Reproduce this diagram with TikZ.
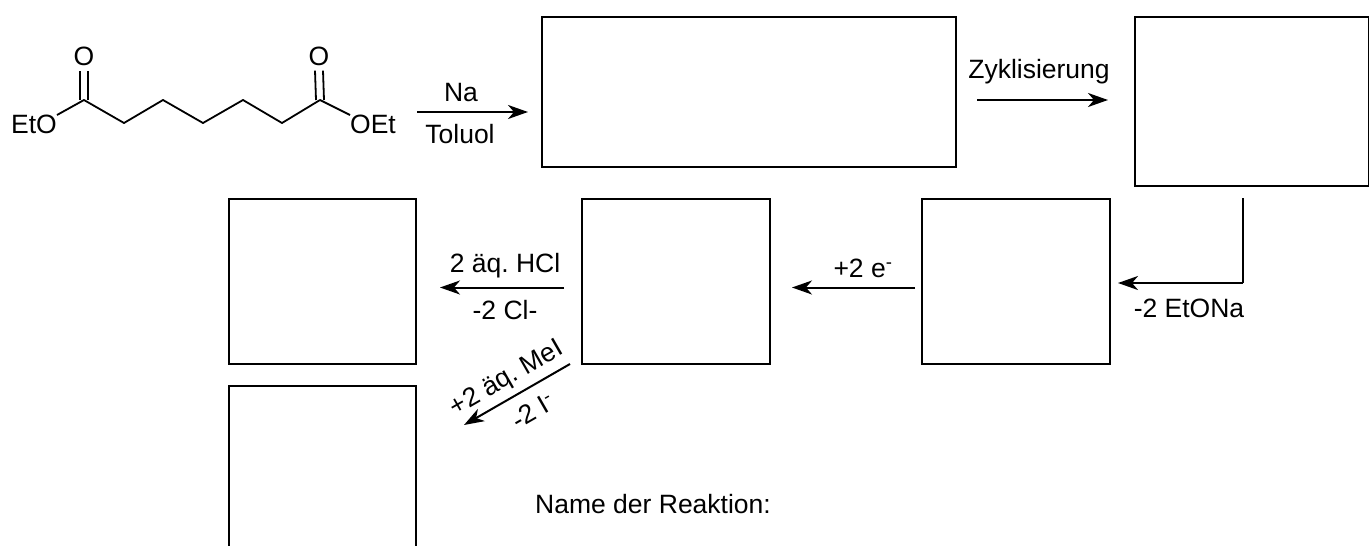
\documentclass[tikz,border=0pt]{standalone}
\usepackage{fontspec}
\setmainfont{Liberation Sans}
\frenchspacing
\usetikzlibrary{positioning,calc,arrows.meta}

\tikzset{
    rxnbox/.style={draw, line width=1.5pt, inner sep=0pt, outer sep=0pt},
    rxn/.style={line width=2pt, -{Stealth[length=20pt, width=14pt, inset=6pt]}},
    bond/.style={line width=1.8pt},
    lbl/.style={inner sep=0pt, font=\fontsize{26.5}{30}\selectfont},
    atom/.style={inner sep=5pt, font=\fontsize{26.5}{30}\selectfont}
}

\begin{document}
\begin{tikzpicture}[x=1pt, y=-1pt]
    \useasboundingbox (0, 0) rectangle (1369, 546);
    \clip (0, 0) rectangle (1369, 546);

    % Empty answer boxes
    \node [rxnbox, minimum width=414pt, minimum height=150pt] (boxA) at (749, 92) {};
    \node [rxnbox, minimum width=234pt, minimum height=169pt] (boxB) at (1252, 101.5) {};
    \node [rxnbox, minimum width=188pt, minimum height=165pt] (boxC) at (1016, 281.5) {};
    \node [rxnbox, minimum width=188pt, minimum height=165pt] (boxD) at (676, 281.5) {};
    \node [rxnbox, minimum width=187pt, minimum height=165pt] (boxE) at (322.5, 281.5) {};
    \node [rxnbox, minimum width=187pt, minimum height=180pt] (boxF) at (322.5, 476) {};

    % Diester chain
    \coordinate (c1) at (84, 100);
    \coordinate (c2) at (124, 123);
    \coordinate (c3) at (163, 100);
    \coordinate (c4) at (203, 123);
    \coordinate (c5) at (243, 100);
    \coordinate (c6) at (282, 123);
    \coordinate (c7) at (320, 100);
    \foreach \i/\j in {1/2, 2/3, 3/4, 4/5, 5/6, 6/7} {
        \draw [bond, line cap=round] (c\i) -- (c\j);
    }
    \node [atom] (oxoL) at (84, 56) {O};
    \node [atom] (oxoR) at (319, 56) {O};
    \node [atom, inner sep=0pt, anchor=east] (etoL) at (57, 124) {EtO};
    \node [atom, inner sep=0pt, anchor=west] (etoR) at (350, 124) {OEt};
    \draw [bond] (c1) -- (etoL.east |- 0, 115);
    \draw [bond] (c7) -- (etoR.west |- 0, 115);
    \foreach \c/\o in {c1/oxoL, c7/oxoR} {
        \draw [bond] ([xshift=-4pt]\c) -- ([xshift=-4pt]\o.south);
        \draw [bond] ([xshift=4pt]\c) -- ([xshift=4pt]\o.south);
    }

    % Top row
    \coordinate (naS) at (417, 112);
    \draw [rxn, shorten >=14pt] (naS) -- (boxA.west |- naS);
    \node [lbl] (na) at (461, 93) {Na};
    \node [lbl] (toluol) at (460, 134) {Toluol};
    \draw [rxn, shorten <=21pt, shorten >=27pt] ([yshift=-8pt]boxA.east) -- ([yshift=-8pt]boxA.east -| boxB.west);
    \node [lbl] (zyk) at (1039, 72) {Zyklisierung};

    % Middle row
    \coordinate (cornerB) at (1243, 283);
    \draw [line width=2pt] (boxB.south -| cornerB) ++(0, 12) -- (cornerB);
    \draw [rxn, shorten >=8pt] (cornerB) -- (boxC.east |- cornerB);
    \node [lbl] (etona) at (1189, 308) {-2 EtONa};
    \draw [rxn, shorten <=7pt, shorten >=22pt] ([yshift=-6pt]boxC.west) -- ([yshift=-6pt]boxC.west -| boxD.east);
    \node [lbl] (elec) at (863, 268) {+2 e\textsuperscript{-}};
    \draw [rxn, shorten <=18pt, shorten >=24pt] ([yshift=-6pt]boxD.west) -- ([yshift=-6pt]boxD.west -| boxE.east);
    \node [lbl] (hcl) at (505, 266) {2 äq. HCl};
    \node [lbl] (cl) at (505, 310) {-2 Cl-};

    % Methylation
    \coordinate (meS) at (570, 364);
    \coordinate (meE) at (464, 425);
    \draw [rxn] (meS) -- (meE);
    \node [lbl, rotate=30] (mei) at (507, 379) {+2 äq. MeI};
    \node [lbl, rotate=30] (iod) at (533, 411) {-2 I\textsuperscript{-}};

    \node [lbl, anchor=west] (name) at (535, 504) {Name der Reaktion:};
\end{tikzpicture}
\end{document}
